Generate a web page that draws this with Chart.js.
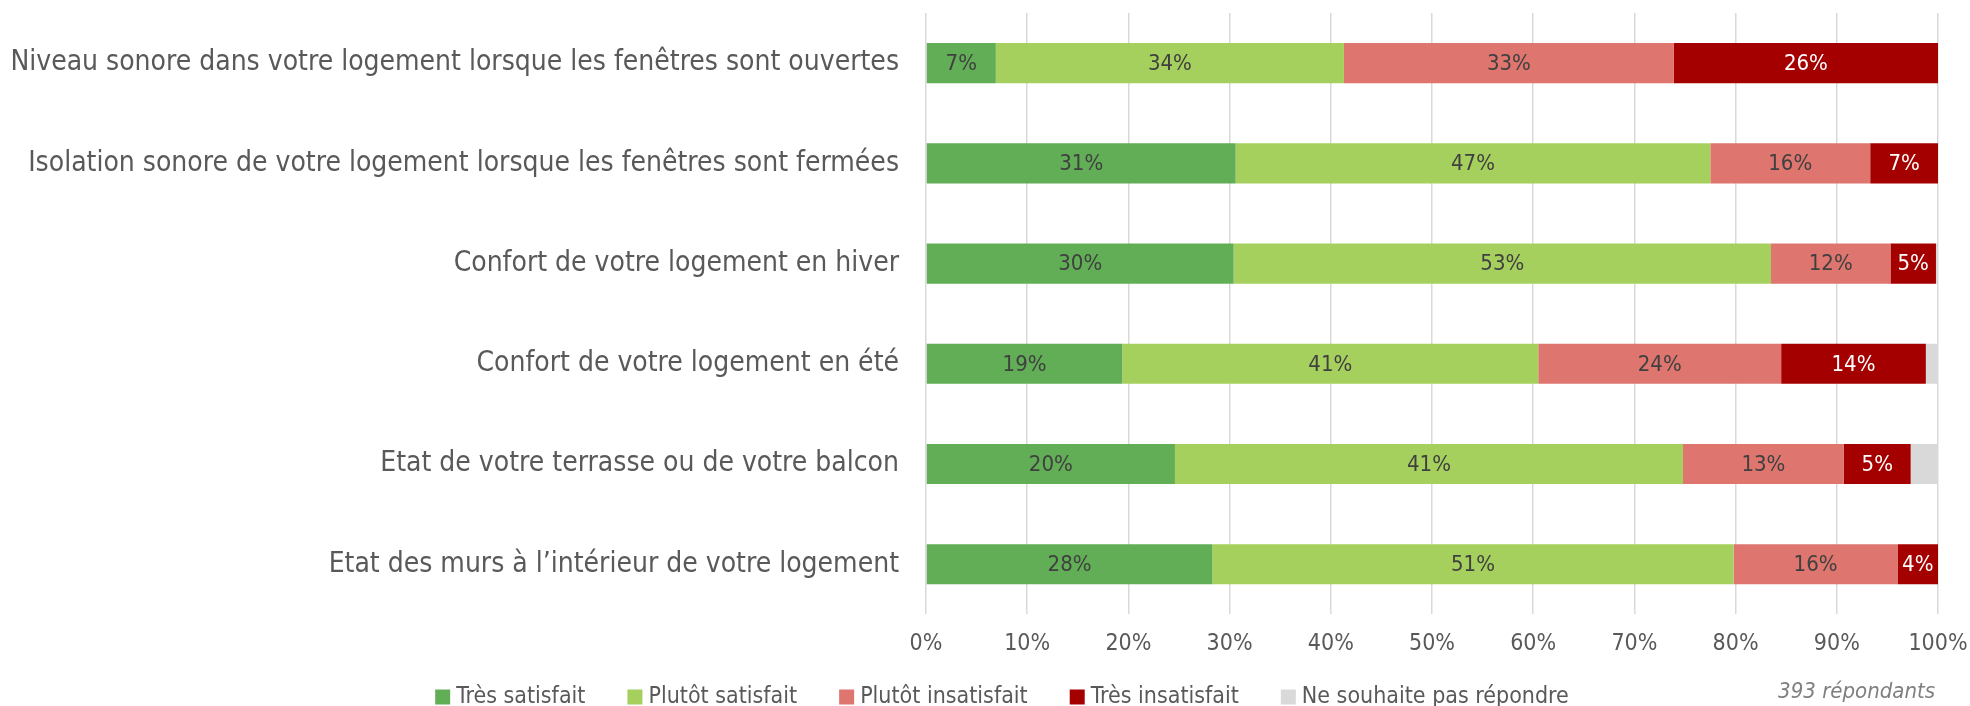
<!DOCTYPE html>
<html>
<head>
<meta charset="utf-8">
<script src="https://cdn.jsdelivr.net/npm/chart.js@4"></script>
<style>
  html, body { margin: 0; padding: 0; background: #fff; }
  #wrap { width: 1970px; height: 706px; position: relative; }
</style>
</head>
<body>
<div id="wrap"><canvas id="chart" width="1970" height="706"></canvas></div>
<script>
const categories = [
  'Niveau sonore dans votre logement lorsque les fenêtres sont ouvertes',
  'Isolation sonore de votre logement lorsque les fenêtres sont fermées',
  'Confort de votre logement en hiver',
  'Confort de votre logement en été',
  'Etat de votre terrasse ou de votre balcon',
  'Etat des murs à l\u2019intérieur de votre logement'
];

// bar widths in %
const tresSatisfait = [6.9, 30.6, 30.4, 19.4, 24.6, 28.3];
const plutotSatisfait = [34.4, 46.9, 53.1, 41.1, 50.2, 51.5];
const plutotInsatisfait = [32.6, 15.8, 11.8, 24.0, 15.9, 16.2];
const tresInsatisfait = [26.1, 6.7, 4.5, 14.3, 6.6, 4.0];
const neSouhaitePas = [0, 0, 0.2, 1.2, 2.7, 0];

// labels as printed on the bars
const labelsTresSatisfait = ['7%', '31%', '30%', '19%', '20%', '28%'];
const labelsPlutotSatisfait = ['34%', '47%', '53%', '41%', '41%', '51%'];
const labelsPlutotInsatisfait = ['33%', '16%', '12%', '24%', '13%', '16%'];
const labelsTresInsatisfait = ['26%', '7%', '5%', '14%', '5%', '4%'];

const xTicks = [0, 10, 20, 30, 40, 50, 60, 70, 80, 90, 100];
const respondents = '393 répondants';

const FONT = '"Liberation Sans Narrow", "DejaVu Sans Condensed", sans-serif';

// labels in the middle of each segment
const barLabels = {
  id: 'barLabels',
  afterDatasetsDraw(chart) {
    const c = chart.ctx;
    c.save();
    c.font = '22px ' + FONT;
    c.textAlign = 'center';
    c.textBaseline = 'middle';
    chart.data.datasets.forEach((ds, i) => {
      if (!ds.barText) return;
      const meta = chart.getDatasetMeta(i);
      meta.data.forEach((bar, j) => {
        const txt = ds.barText[j];
        if (!txt) return;
        c.fillStyle = ds.textColor;
        c.fillText(txt, (bar.x + bar.base) / 2, bar.y + 1);
      });
    });
    c.restore();
  }
};

// legend drawn by hand: wide gaps between items, tight bottom margin
const bottomLegend = {
  id: 'bottomLegend',
  afterDraw(chart) {
    const c = chart.ctx;
    const box = 15, boxGap = 6, itemGap = 42, y = 697;
    c.save();
    c.font = '23px ' + FONT;
    c.textBaseline = 'middle';
    const items = chart.data.datasets.map(ds => ({
      text: ds.label, color: ds.backgroundColor, w: box + boxGap + c.measureText(ds.label).width
    }));
    const total = items.reduce((s, it) => s + it.w, 0) + itemGap * (items.length - 1);
    let x = 1002 - total / 2;
    items.forEach(it => {
      c.fillStyle = it.color;
      c.fillRect(x, y - box / 2, box, box);
      c.fillStyle = '#595959';
      c.fillText(it.text, x + box + boxGap, y);
      x += it.w + itemGap;
    });
    c.font = 'italic 22px ' + FONT;
    c.fillStyle = '#7f7f7f';
    c.textAlign = 'right';
    c.fillText(respondents, 1935, 692);
    c.restore();
  }
};

const ctx = document.getElementById('chart').getContext('2d');

new Chart(ctx, {
  type: 'bar',
  data: {
    labels: categories,
    datasets: [
      { label: 'Très satisfait', data: tresSatisfait, backgroundColor: '#62ae56', barText: labelsTresSatisfait, textColor: '#404040' },
      { label: 'Plutôt satisfait', data: plutotSatisfait, backgroundColor: '#a6d05e', barText: labelsPlutotSatisfait, textColor: '#404040' },
      { label: 'Plutôt insatisfait', data: plutotInsatisfait, backgroundColor: '#de756e', barText: labelsPlutotInsatisfait, textColor: '#404040' },
      { label: 'Très insatisfait', data: tresInsatisfait, backgroundColor: '#a50000', barText: labelsTresInsatisfait, textColor: '#ffffff' },
      { label: 'Ne souhaite pas répondre', data: neSouhaitePas, backgroundColor: '#d9d9d9' }
    ]
  },
  options: {
    indexAxis: 'y',
    responsive: false,
    animation: false,
    maintainAspectRatio: false,
    datasets: { bar: { categoryPercentage: 0.8, barPercentage: 0.5, borderWidth: 0 } },
    layout: { padding: { top: 13, right: 32, bottom: 32, left: 0 } },
    plugins: {
      tooltip: { enabled: false },
      legend: { display: false }
    },
    scales: {
      x: {
        stacked: true,
        min: 0,
        max: 100,
        afterBuildTicks: (s) => { s.ticks = xTicks.map(v => ({ value: v })); },
        afterFit: (s) => { s.paddingRight = 0; },
        ticks: {
          callback: (v) => v + '%',
          font: { family: FONT, size: 23 },
          color: '#595959',
          padding: 16
        },
        grid: { color: '#d9d9d9', lineWidth: 1.5, drawTicks: false },
        border: { display: false }
      },
      y: {
        stacked: true,
        afterFit: (s) => { s.width = 926; s.paddingTop = 0; s.paddingBottom = 0; },
        ticks: {
          font: { family: FONT, size: 28 },
          color: '#595959',
          padding: 19
        },
        grid: { display: false },
        border: { display: false }
      }
    }
  },
  plugins: [barLabels, bottomLegend]
});
</script>
</body>
</html>
